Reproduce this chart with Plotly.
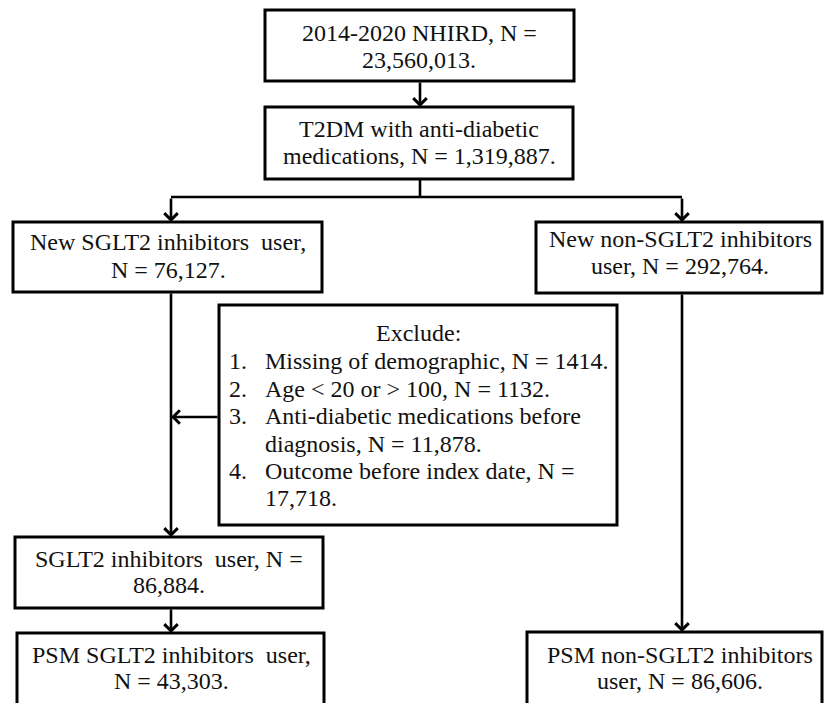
import plotly.graph_objects as go

# ---- content (text) ----
box_labels = {
    "nhird": ["2014-2020 NHIRD, N =", "23,560,013."],
    "t2dm": ["T2DM with anti-diabetic", "medications, N = 1,319,887."],
    "new_sglt2": ["New SGLT2 inhibitors  user,", "N = 76,127."],
    "new_non": ["New non-SGLT2 inhibitors", "user, N = 292,764."],
    "sglt2": ["SGLT2 inhibitors  user, N =", "86,884."],
    "psm_sglt2": ["PSM SGLT2 inhibitors  user,", "N = 43,303."],
    "psm_non": ["PSM non-SGLT2 inhibitors", "user, N = 86,606."],
}
exclude_title = "Exclude:"
exclude_numbers = ["1.", "2.", "3.", "", "4.", ""]
exclude_lines = [
    "Missing of demographic, N = 1414.",
    "Age < 20 or > 100, N = 1132.",
    "Anti-diabetic medications before",
    "diagnosis, N = 11,878.",
    "Outcome before index date, N =",
    "17,718.",
]

# ---- layout geometry (pixels, y downward) ----
W, H = 824, 703
boxes = {  # x0, x1, y0, y1
    "nhird": (265, 574, 10, 81),
    "t2dm": (265, 573, 107, 179),
    "new_sglt2": (13, 322, 222, 292),
    "new_non": (536, 822, 222, 293),
    "exclude": (219, 617, 305, 525),
    "sglt2": (15, 323, 537, 608),
    "psm_sglt2": (17, 324, 633, 740),
    "psm_non": (527, 822, 632, 740),
}
text_pos = {  # center x, line y's
    "nhird": (419, [33, 60]),
    "t2dm": (419, [129, 156]),
    "new_sglt2": (168, [242, 270]),
    "new_non": (680, [239, 266]),
    "sglt2": (169, [559, 585]),
    "psm_sglt2": (171, [655, 681]),
    "psm_non": (680, [655, 681]),
}
excl_title_pos = (418, 333)
excl_num_x, excl_text_x = 227, 263
excl_ys = [361, 389, 416, 444, 471, 498]

FONT = "Liberation Serif"
FS = 24
TXT = "#111111"
LW_BOX = 3
LW_LINE = 2.6

fig = go.Figure()
shapes = []
for k, (x0, x1, y0, y1) in boxes.items():
    shapes.append(dict(type="rect", xref="x", yref="y", x0=x0, x1=x1, y0=y0, y1=y1,
                       line=dict(color="black", width=LW_BOX), fillcolor="white", layer="below"))

# plain connector lines
left_x, right_x = 171, 682
split_y = 197
lines = [
    (420, 179, 420, split_y),
    (left_x, split_y, right_x, split_y),
]
for (x0, y0, x1, y1) in lines:
    shapes.append(dict(type="line", xref="x", yref="y", x0=x0, y0=y0, x1=x1, y1=y1,
                       line=dict(color="black", width=LW_LINE)))

annotations = []
# arrows: (tail x, tail y, tip x, tip y)
arrows = [
    (420, 81, 420, 107),
    (left_x, split_y, left_x, 222),
    (right_x, split_y, right_x, 222),
    (left_x, 292, left_x, 537),
    (219, 417, left_x, 417),
    (right_x, 293, right_x, 632),
    (left_x, 608, left_x, 633),
]
for (ax, ay, x, y) in arrows:
    annotations.append(dict(x=x, y=y, ax=ax, ay=ay, xref="x", yref="y", axref="x", ayref="y",
                            showarrow=True, arrowhead=4, arrowsize=1.0, arrowwidth=LW_LINE,
                            arrowcolor="black", standoff=0, text=""))

def txt(x, y, s, anchor="center"):
    annotations.append(dict(x=x, y=y, xref="x", yref="y", text=s, showarrow=False,
                            xanchor=anchor, yanchor="middle",
                            font=dict(family=FONT, size=FS, color=TXT)))

for k, lines_ in box_labels.items():
    cx, ys = text_pos[k]
    for s, y in zip(lines_, ys):
        txt(cx, y, s)

txt(excl_title_pos[0], excl_title_pos[1], exclude_title)
for num, s, y in zip(exclude_numbers, exclude_lines, excl_ys):
    if num:
        txt(excl_num_x, y, num, "left")
    txt(excl_text_x, y, s.replace("<", "&lt;").replace(">", "&gt;"), "left")

fig.update_layout(
    width=W, height=H, margin=dict(l=0, r=0, t=0, b=0),
    paper_bgcolor="white", plot_bgcolor="white",
    xaxis=dict(range=[0, W], visible=False, fixedrange=True),
    yaxis=dict(range=[H, 0], visible=False, fixedrange=True),
    shapes=shapes, annotations=annotations, showlegend=False,
)
fig.write_html("out.html", config={"displayModeBar": False},
               post_script="document.body.style.margin='0';document.body.style.overflow='hidden';")
